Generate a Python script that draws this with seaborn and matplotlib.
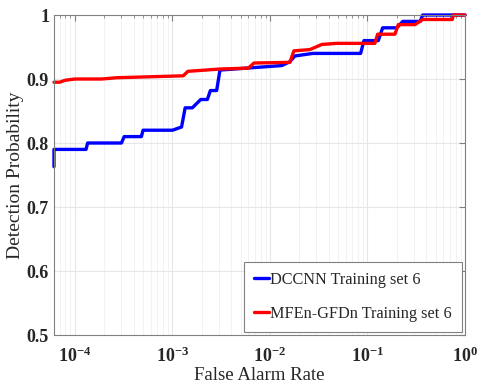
import numpy as np
import pandas as pd
import matplotlib
matplotlib.use('Agg')
import matplotlib.pyplot as plt
from matplotlib.ticker import LogLocator, NullFormatter, FixedLocator, FixedFormatter
import seaborn as sns

# DCCNN Training set 6 (blue)
dccnn_far = [6.1e-5, 6.1e-5, 1.3e-4, 1.35e-4, 3.0e-4, 3.2e-4, 4.8e-4, 5.0e-4, 1.0e-3,
             1.24e-3, 1.35e-3, 1.6e-3, 1.95e-3, 2.28e-3, 2.45e-3, 2.84e-3, 3.07e-3,
             0.0132, 0.016, 0.018, 0.0275, 0.085, 0.092, 0.129, 0.143, 0.2, 0.23,
             0.347, 0.368, 1.0]
dccnn_pd = [0.763, 0.79, 0.79, 0.80, 0.80, 0.81, 0.81, 0.82, 0.82,
            0.825, 0.855, 0.855, 0.868, 0.868, 0.882, 0.882, 0.914,
            0.921, 0.927, 0.936, 0.94, 0.94, 0.96, 0.96, 0.98, 0.98, 0.99,
            0.99, 1.0, 1.0]

# MFEn-GFDn Training set 6 (red)
mfen_far = [6.1e-5, 7.0e-5, 7.9e-5, 1.0e-4, 1.88e-4, 2.68e-4, 1.29e-3, 1.44e-3,
            3.07e-3, 6.0e-3, 6.86e-3, 0.016, 0.0176, 0.0257, 0.034, 0.048, 0.119,
            0.127, 0.191, 0.207, 0.307, 0.368, 0.74, 0.76, 1.0]
mfen_pd = [0.895, 0.895, 0.898, 0.90, 0.90, 0.902, 0.905, 0.912,
           0.9156, 0.917, 0.925, 0.926, 0.944, 0.946, 0.954, 0.9557, 0.9557,
           0.97, 0.97, 0.985, 0.985, 0.993, 0.993, 1.0, 1.0]

labels = ['DCCNN Training set 6', 'MFEn-GFDn Training set 6']
x_ticks = [1e-4, 1e-3, 1e-2, 1e-1, 1e0]
x_labels = [r'$\mathbf{10^{-4}}$', r'$\mathbf{10^{-3}}$', r'$\mathbf{10^{-2}}$',
            r'$\mathbf{10^{-1}}$', r'$\mathbf{10^{0}}$']
y_ticks = [0.5, 0.6, 0.7, 0.8, 0.9, 1.0]
y_labels = ['0.5', '0.6', '0.7', '0.8', '0.9', '1']

sns.set_style('white')
plt.rcParams['font.family'] = ['Liberation Serif', 'DejaVu Serif']
plt.rcParams['mathtext.fontset'] = 'custom'
plt.rcParams['mathtext.rm'] = 'Liberation Serif'
plt.rcParams['mathtext.bf'] = 'Liberation Serif:bold'
plt.rcParams['mathtext.it'] = 'Liberation Serif:italic'

fig = plt.figure(figsize=(4.79, 3.89), dpi=100)
ax = fig.add_axes([0.1127, 0.1388, 0.8581, 0.8226])

sns.lineplot(x=dccnn_far, y=dccnn_pd, sort=False, estimator=None, color='#0000ff',
             linewidth=2.4, ax=ax, label=labels[0], clip_on=False)
sns.lineplot(x=mfen_far, y=mfen_pd, sort=False, estimator=None, color='#ff0000',
             linewidth=2.4, ax=ax, label=labels[1], clip_on=False)

ax.set_xscale('log')
ax.set_xlim(6.1e-5, 1.0)
ax.set_ylim(0.5, 1.0)
ax.xaxis.set_major_locator(FixedLocator(x_ticks))
ax.xaxis.set_major_formatter(FixedFormatter(x_labels))
ax.xaxis.set_minor_locator(LogLocator(base=10, subs=np.arange(2, 10), numticks=50))
ax.xaxis.set_minor_formatter(NullFormatter())
ax.yaxis.set_major_locator(FixedLocator(y_ticks))
ax.yaxis.set_major_formatter(FixedFormatter(y_labels))

ax.grid(True, which='major', color='#e6e6e6', linewidth=0.8)
ax.grid(True, which='minor', axis='x', color='#f0f0f0', linewidth=0.6)
ax.tick_params(which='both', direction='in', colors='#808080', labelcolor='#262626',
               labelsize=13, top=True, right=True)
ax.tick_params(which='major', length=4)
ax.tick_params(which='minor', length=2)
ax.tick_params(axis='x', pad=8)
for t in ax.get_yticklabels():
    t.set_fontweight('bold')
for s in ax.spines.values():
    s.set_color('#808080')
    s.set_linewidth(0.8)

ax.set_xlabel('False Alarm Rate', fontsize=13.5, color='#262626', labelpad=1)
ax.set_ylabel('Detection Probability', fontsize=14, color='#262626', labelpad=2)

leg = ax.legend(loc='lower right', fontsize=11.7, handlelength=0.9, handletextpad=0.1,
                labelspacing=1.1, fancybox=False, framealpha=1, edgecolor='#808080',
                borderaxespad=0.2, borderpad=0.6)
leg.get_frame().set_linewidth(0.8)

fig.savefig('out.png', dpi=100)
